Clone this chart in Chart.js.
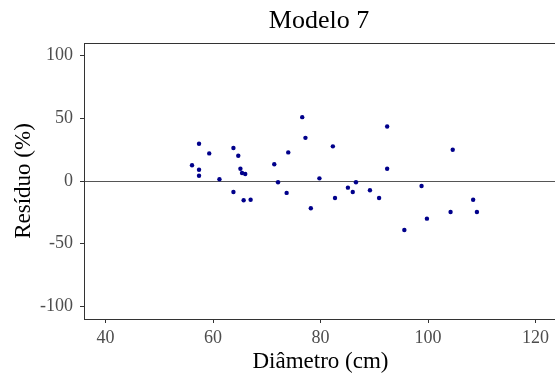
<!DOCTYPE html>
<html>
<head>
<meta charset="utf-8">
<script src="https://cdn.jsdelivr.net/npm/chart.js@4/dist/chart.umd.min.js"></script>
<style>
  html, body { margin: 0; padding: 0; background: #fff; overflow: hidden; }
  canvas { display: block; }
</style>
</head>
<body>
<canvas id="residChart" width="561" height="376"></canvas>
<script>
// Diametro (cm) and residuo (%)
const diametro = [56.1, 57.4, 57.4, 57.4, 59.3, 61.2, 63.8, 63.8, 64.7, 65.1,
                  65.4, 66.0, 65.7, 67.0, 71.4, 72.1, 74.0, 73.7, 76.6, 77.2,
                  78.2, 79.8, 82.3, 82.7, 85.1, 86.0, 86.6, 89.2, 90.9, 92.4,
                  92.4, 95.6, 98.8, 99.8, 104.2, 104.6, 108.4, 109.1];
const residuo = [12.5, 29.7, 9.0, 4.2, 22.0, 1.4, 26.3, -8.8, 20.1, 9.8,
                 6.4, 5.6, -15.4, -14.9, 13.3, -1.0, 22.8, -9.5, 50.9, 34.4,
                 -21.7, 2.1, 27.6, -13.5, -5.3, -8.8, -1.0, -7.4, -13.5, 43.5,
                 9.8, -39.0, -4.0, -30.0, -24.7, 24.9, -14.9, -24.7];
const xTicks = [40, 60, 80, 100, 120];
const yTicks = [-100, -50, 0, 50, 100];

const serif = '"Liberation Serif", "Times New Roman", serif';

// title, border box and the zero reference line
const panelPlugin = {
    id: 'panel',
    beforeDatasetsDraw(chart) {
        const ctx = chart.ctx;
        const a = chart.chartArea;
        const y0 = chart.scales.y.getPixelForValue(0);
        ctx.save();
        ctx.strokeStyle = '#555555';
        ctx.lineWidth = 1;
        ctx.beginPath();
        ctx.moveTo(a.left, Math.round(y0) + 0.5);
        ctx.lineTo(a.right, Math.round(y0) + 0.5);
        ctx.stroke();
        ctx.strokeStyle = '#333333';
        ctx.strokeRect(a.left + 0.5, a.top + 0.5, a.right - a.left - 1, a.bottom - a.top);

        ctx.fillStyle = '#000';
        ctx.font = '26px ' + serif;
        ctx.textAlign = 'center';
        ctx.textBaseline = 'alphabetic';
        ctx.fillText('Modelo 7', 319, 28);
        ctx.restore();
    }
};

const points = diametro.map((d, i) => ({ x: d, y: residuo[i] }));

new Chart(document.getElementById('residChart').getContext('2d'), {
    type: 'scatter',
    data: {
        datasets: [{
            data: points,
            backgroundColor: '#00008B',
            borderColor: '#00008B',
            pointRadius: 2.2,
            borderWidth: 0
        }]
    },
    options: {
        responsive: false,
        animation: false,
        layout: { padding: { left: 0, right: 0, top: 43, bottom: 0 } },
        plugins: {
            legend: { display: false },
            tooltip: { enabled: false }
        },
        scales: {
            x: {
                type: 'linear',
                min: 36,
                max: 124,
                afterBuildTicks: s => { s.ticks = xTicks.map(v => ({ value: v })); },
                afterFit: s => { s.height = 57; s.paddingLeft = 0; s.paddingRight = 0; },
                grid: { display: true, drawOnChartArea: false, drawTicks: true, tickLength: 4, color: '#333' },
                border: { display: true, color: '#333' },
                ticks: {
                    color: '#4d4d4d',
                    font: { family: serif, size: 18 },
                    padding: 4,
                    maxRotation: 0
                },
                title: {
                    display: true,
                    text: 'Diâmetro (cm)',
                    color: '#000',
                    font: { family: serif, size: 23 },
                    padding: { top: 0, bottom: 0 }
                }
            },
            y: {
                type: 'linear',
                min: -110,
                max: 110,
                afterBuildTicks: s => { s.ticks = yTicks.map(v => ({ value: v })); },
                afterFit: s => { s.width = 84; s.paddingTop = 0; s.paddingBottom = 0; },
                grid: { display: true, drawOnChartArea: false, drawTicks: true, tickLength: 4, color: '#333' },
                border: { display: true, color: '#333' },
                ticks: {
                    color: '#4d4d4d',
                    font: { family: serif, size: 18 },
                    padding: 7
                },
                title: {
                    display: true,
                    text: 'Resíduo (%)',
                    color: '#000',
                    font: { family: serif, size: 23 },
                    padding: { top: 10, bottom: 0 }
                }
            }
        }
    },
    plugins: [panelPlugin]
});
</script>
</body>
</html>
